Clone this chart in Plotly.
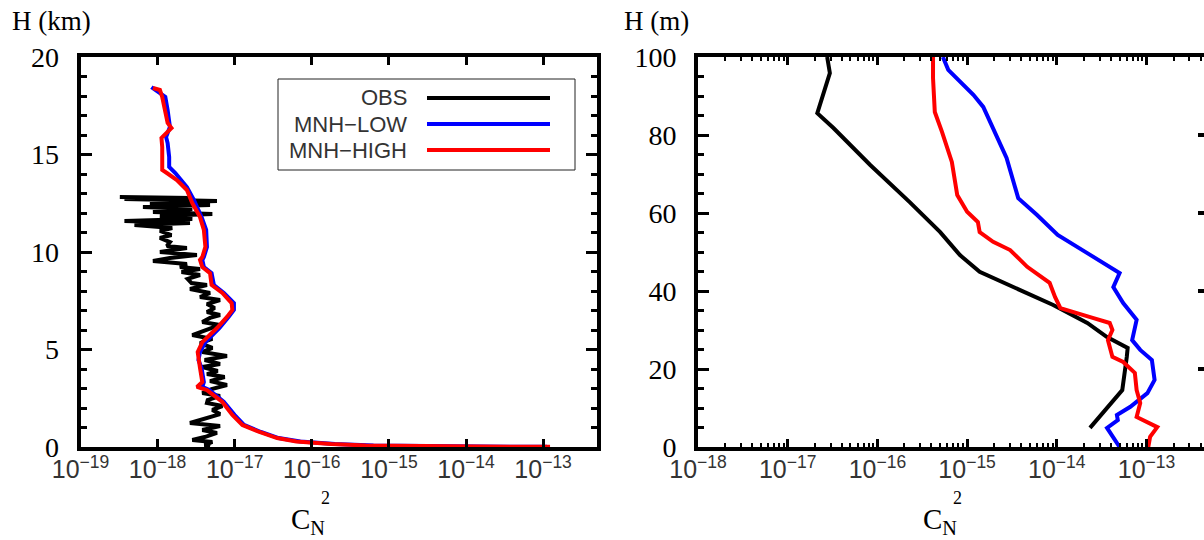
import plotly.graph_objects as go

# ---------------- data (log10 of C_N^2) ----------------
# Left panel: height in km
obs_km_h = [12.82, 12.77, 12.72, 12.62, 12.51, 12.41, 12.31, 12.21, 12.05, 11.95, 11.85, 11.69,
            11.59, 11.49, 11.38, 11.23, 11.08, 10.87, 10.72, 10.51, 10.31, 10.21, 10.00, 9.85,
            9.69, 9.54, 9.38, 9.23, 9.13, 8.97, 8.82, 8.62, 8.41, 8.31, 8.10, 7.90, 7.69, 7.54,
            7.33, 7.13, 6.92, 6.77, 6.62, 6.41, 6.26, 6.00, 5.74, 5.54, 5.33, 5.08, 4.87, 4.67,
            4.46, 4.26, 4.10, 3.90, 3.74, 3.59, 3.38, 3.18, 2.97, 2.77, 2.62, 2.41, 2.26, 2.10,
            1.90, 1.69, 1.49, 1.23, 1.08, 0.87, 0.72, 0.51, 0.36, 0.26, 0.10, 0.02]
obs_km_logc = [-18.49, -17.55, -18.43, -17.23, -18.10, -17.32, -18.19, -17.55, -18.06, -17.29, -17.97, -17.55,
               -18.43, -17.58, -18.30, -17.81, -17.97, -17.82, -17.97, -17.84, -17.88, -17.62, -17.97, -17.49,
               -17.84, -18.06, -17.62, -17.71, -17.45, -17.69, -17.45, -17.61, -17.56, -17.36, -17.58, -17.32, -17.45, -17.19,
               -17.36, -17.26, -17.36, -17.19, -17.32, -17.42, -17.19, -17.39, -17.55, -17.29, -17.45, -17.29, -17.42, -17.10,
               -17.39, -17.19, -17.42, -17.22, -17.36, -17.13, -17.32, -17.10, -17.30, -17.42, -17.19, -17.35, -17.36, -17.16,
               -17.29, -17.19, -17.35, -17.58, -17.19, -17.42, -17.23, -17.39, -17.55, -17.29, -17.39, -17.32]

low_km_h = [18.46, 18.31, 17.95, 17.28, 16.41, 15.90, 15.59, 14.87, 14.36, 14.05, 13.33, 12.67,
            11.79, 11.13, 10.26, 9.74, 9.59, 9.23, 8.92, 8.31, 7.90, 7.38, 7.03, 6.67, 6.10, 5.38,
            4.87, 4.46, 4.05, 3.33, 3.08, 2.92, 2.31, 1.64, 1.13, 0.77, 0.46, 0.28, 0.15, 0.08,
            0.04, 0.02, 0.01]
low_km_logc = [-18.08, -18.03, -17.90, -17.87, -17.84, -17.89, -17.87, -17.85, -17.85, -17.77, -17.62, -17.53,
               -17.43, -17.37, -17.36, -17.40, -17.42, -17.40, -17.30, -17.27, -17.14, -17.01, -17.01, -17.08, -17.20, -17.38,
               -17.45, -17.47, -17.43, -17.40, -17.42, -17.33, -17.14, -17.00, -16.88, -16.66, -16.43, -16.15, -15.70, -15.20,
               -14.60, -13.80, -12.95]

high_km_h = [18.41, 18.31, 17.95, 17.28, 16.62, 16.36, 16.10, 15.85, 15.38, 14.72, 14.21, 14.05,
             13.69, 13.18, 12.51, 11.79, 11.13, 10.26, 9.74, 9.59, 9.23, 8.92, 8.31, 7.90, 7.38, 7.03,
             6.67, 6.10, 5.38, 4.87, 4.46, 4.05, 3.33, 3.08, 2.92, 2.31, 1.64, 1.13, 0.77, 0.46,
             0.28, 0.15, 0.08, 0.04, 0.02, 0.01]
high_km_logc = [-18.06, -17.97, -17.94, -17.91, -17.87, -17.82, -17.88, -17.95, -17.94, -17.94, -17.94, -17.88,
                -17.75, -17.62, -17.55, -17.45, -17.40, -17.38, -17.42, -17.45, -17.42, -17.32, -17.30, -17.16, -17.04, -17.03,
                -17.10, -17.23, -17.42, -17.48, -17.47, -17.45, -17.42, -17.49, -17.36, -17.16, -17.03, -16.90, -16.68, -16.45,
                -16.20, -15.75, -15.30, -14.77, -13.86, -12.91]

# Right panel: height in m
obs_m_h = [4.9, 14.6, 23.1, 25.4, 28.2, 31.8, 36.4, 41.5, 44.9, 49.2, 55.1, 62.8, 72.3, 81.8, 85.6, 95.9, 100.0]
obs_m_logc = [-13.63, -13.27, -13.22, -13.21, -13.44, -13.66, -14.04, -14.52, -14.86, -15.08, -15.30, -15.64,
              -16.08, -16.49, -16.67, -16.53, -16.56]

low_m_h = [0.0, 2.6, 4.9, 6.9, 8.2, 10.3, 13.8, 17.2, 22.3, 24.9, 27.4, 32.6, 36.9, 41.0, 44.6, 49.7,
           54.4, 59.5, 63.8, 74.1, 81.8, 87.2, 90.3, 93.6, 96.7, 100.0]
low_m_logc = [-13.30, -13.37, -13.44, -13.32, -13.33, -13.18, -12.99, -12.91, -12.94, -13.07, -13.16, -13.11,
              -13.26, -13.37, -13.30, -13.66, -13.99, -14.22, -14.43, -14.56, -14.71, -14.82, -14.93, -15.08,
              -15.21, -15.27]

high_m_h = [0.0, 2.6, 5.1, 7.7, 11.3, 14.6, 19.0, 21.8, 23.1, 27.4, 30.0, 31.8, 33.1, 34.4, 35.6, 38.5,
            42.1, 46.2, 50.5, 52.6, 55.1, 57.7, 60.3, 64.6, 73.1, 80.8, 85.9, 94.6, 100.0]
high_m_logc = [-12.98, -12.96, -12.88, -13.11, -13.07, -13.11, -13.13, -13.26, -13.38, -13.43, -13.38, -13.41,
               -13.60, -13.77, -13.96, -14.02, -14.08, -14.33, -14.52, -14.71, -14.86, -14.88, -15.00, -15.11,
               -15.17, -15.28, -15.36, -15.38, -15.38]

series_names = ["OBS", "MNH\u2212LOW", "MNH\u2212HIGH"]
series_colors = ["#000000", "#0000ff", "#ff0000"]

left_xrange = [-19, -12.301]
right_xrange = [-18, -12.359]
left_yticks = [0, 5, 10, 15, 20]
right_yticks = [0, 20, 40, 60, 80, 100]

# ---------------- figure ----------------
W, H = 1204, 540
fig = go.Figure()

left_sets = [(obs_km_h, obs_km_logc), (low_km_h, low_km_logc), (high_km_h, high_km_logc)]
right_sets = [(obs_m_h, obs_m_logc), (low_m_h, low_m_logc), (high_m_h, high_m_logc)]

for (hh, cc), name, col in zip(left_sets, series_names, series_colors):
    fig.add_trace(go.Scatter(x=[10 ** v for v in cc], y=hh, mode="lines", name=name,
                             line=dict(color=col, width=4), xaxis="x", yaxis="y", showlegend=False))
for (hh, cc), name, col in zip(right_sets, series_names, series_colors):
    fig.add_trace(go.Scatter(x=[10 ** v for v in cc], y=hh, mode="lines", name=name,
                             line=dict(color=col, width=4), xaxis="x2", yaxis="y2", showlegend=False))
# helper trace so the right-side tick axis of the right panel is drawn
fig.add_trace(go.Scatter(x=[1e-17], y=[50], mode="markers", marker=dict(opacity=0),
                         xaxis="x2", yaxis="y3", showlegend=False, hoverinfo="skip"))

SERIF = '"Liberation Serif", "Times New Roman", Times, "DejaVu Serif", serif'
SANS = '"Liberation Sans", Arial, Helvetica, sans-serif'

ydom = [1 - 447 / H, 1 - 57 / H]
xfont = dict(family=SANS, size=20, color="#333333")
yfont = dict(family=SERIF, size=28, color="#000000")

common_x = dict(type="log", dtick=1, exponentformat="power", showgrid=False, zeroline=False,
                showline=True, linewidth=4, linecolor="black", mirror="ticks", automargin=False,
                ticks="inside", ticklen=8, tickwidth=3, tickcolor="black", tickfont=xfont,
                ticklabelstandoff=-2)
common_y = dict(showgrid=False, zeroline=False, showline=True, linewidth=4, linecolor="black",
                ticks="inside", ticklen=11, tickwidth=3, tickcolor="black", tickfont=yfont,
                ticklabelstandoff=12, automargin=False)

fig.update_layout(
    width=W, height=H, margin=dict(l=0, r=0, t=0, b=0, pad=0, autoexpand=False),
    paper_bgcolor="white", plot_bgcolor="white", showlegend=False,
    xaxis=dict(common_x, domain=[80.5 / W, 597 / W], range=left_xrange, anchor="y"),
    yaxis=dict(common_y, domain=ydom, range=[0, 20], tickvals=left_yticks, mirror="ticks",
               minor=dict(ticks="inside", ticklen=6, tickwidth=3, tickcolor="black", dtick=1),
               anchor="x"),
    xaxis2=dict(common_x, domain=[698 / W, 1.0], range=right_xrange, anchor="y2",
                minor=dict(ticks="inside", ticklen=4, tickwidth=2, tickcolor="black", dtick="D1")),
    yaxis2=dict(common_y, domain=ydom, range=[0, 100], tickvals=right_yticks, mirror=False,
                minor=dict(ticks="inside", ticklen=6, tickwidth=3, tickcolor="black", dtick=5),
                anchor="x2"),
    yaxis3=dict(overlaying="y2", side="right", anchor="x2", range=[0, 100], automargin=False,
                tickvals=[20, 40, 60, 80], ticks="inside", ticklen=6, tickwidth=4, tickcolor="black",
                showticklabels=False, showline=False, showgrid=False, zeroline=False),
)

# axis titles
title_font = dict(family=SERIF, size=27, color="black")
fig.add_annotation(x=10 / W, y=1 - 21 / H, xref="paper", yref="paper", text="H (km)", showarrow=False,
                   xanchor="left", yanchor="middle", font=title_font)
fig.add_annotation(x=622 / W, y=1 - 21 / H, xref="paper", yref="paper", text="H (m)", showarrow=False,
                   xanchor="left", yanchor="middle", font=title_font)
for cx in (308, 940):
    fig.add_annotation(x=cx / W, y=1 - 521 / H, xref="paper", yref="paper", text="C<sub>N</sub>",
                       showarrow=False, xanchor="center", yanchor="middle",
                       font=dict(family=SERIF, size=29, color="black"))
    fig.add_annotation(x=(cx + 17) / W, y=1 - 498 / H, xref="paper", yref="paper", text="2",
                       showarrow=False, xanchor="center", yanchor="middle",
                       font=dict(family=SERIF, size=18, color="black"))

# legend (text on the left, sample line on the right)
fig.add_shape(type="rect", xref="paper", yref="paper", x0=278 / W, x1=575 / W,
              y0=1 - 170 / H, y1=1 - 79 / H, line=dict(color="#222222", width=1), fillcolor="white")
for i, (name, col) in enumerate(zip(series_names, series_colors)):
    yy = 1 - (98 + 26 * i) / H
    fig.add_annotation(x=409 / W, y=yy, xref="paper", yref="paper", text=name, showarrow=False,
                       xanchor="right", yanchor="middle",
                       font=dict(family=SANS, size=22, color="#333333"))
    fig.add_shape(type="line", xref="paper", yref="paper", x0=427 / W, x1=550 / W, y0=yy, y1=yy,
                  line=dict(color=col, width=4))

fig.write_html("out.html")
